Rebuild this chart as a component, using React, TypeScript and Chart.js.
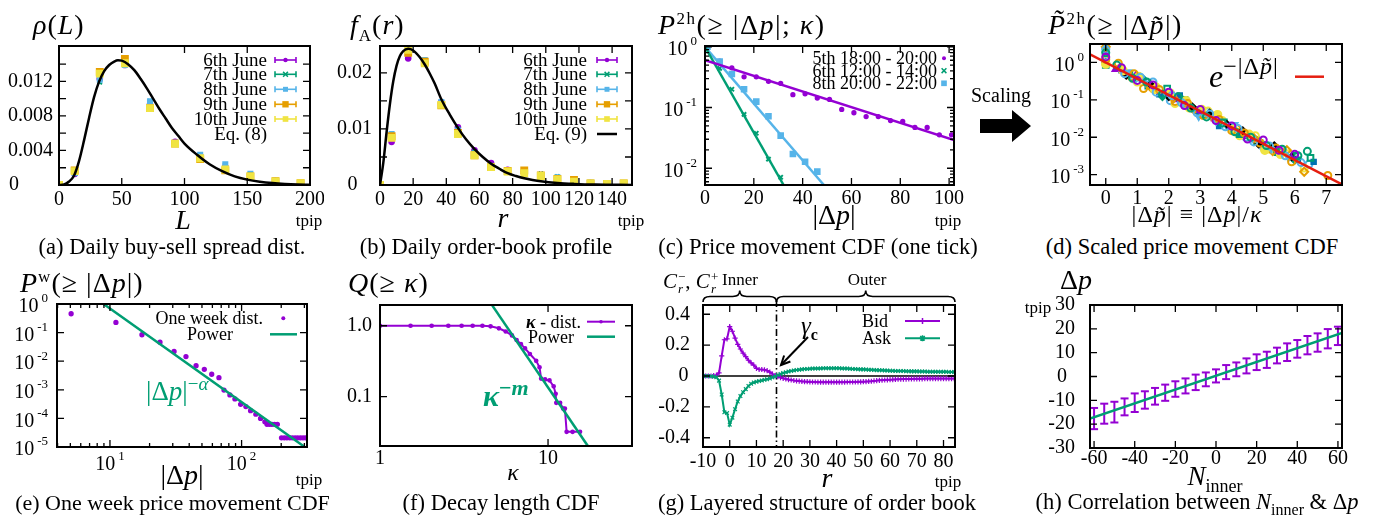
import React, { useEffect, useRef } from 'react';
import { Chart, registerables } from 'chart.js';

Chart.register(...registerables);

const SERIF = "'Liberation Serif', 'Times New Roman', Times, serif";
const PURPLE = '#9400d3';
const GREEN = '#009e73';
const CYAN = '#56b4e9';
const ORANGE = '#e69f00';
const YELLOW = '#f0e442';
const BLUE = '#0072b2';
const RED = '#e51e10';
const BLACK = '#000000';
const NONE = 'rgba(0,0,0,0)';

const ML = 60, MR = 14, MT = 26, MB = 34;
const TICK_FONT = 20, SUP_FONT = 13;

// ---------------- (a) Daily buy-sell spread dist. ----------------
const aL = [0, 12.5, 32.5, 52.5, 72.5, 92.5, 112.5, 132.5, 152.5, 172.5, 192.5];
const aJun6 = [0, 0.0013, 0.0123, 0.0139, 0.0093, 0.005, 0.0034, 0.0021, 0.0011, 0.00045, 0.0002];
const aJun7 = [0, 0.0013, 0.0119, 0.0141, 0.0097, 0.0048, 0.0035, 0.0023, 0.0012, 0.00045, 0.0002];
const aJun8 = [0, 0.0014, 0.0122, 0.0139, 0.0097, 0.0049, 0.0035, 0.0024, 0.0013, 0.0005, 0.0002];
const aJun9 = [0, 0.0017, 0.0131, 0.0146, 0.0089, 0.0048, 0.003, 0.0017, 0.001, 0.00045, 0.0002];
const aJun10 = [0, 0.0016, 0.0129, 0.0141, 0.0089, 0.0048, 0.0031, 0.0018, 0.001, 0.0004, 0.0002];
const aEqL = [0, 4, 8, 12, 16, 20, 24, 28, 32, 36, 40, 44, 47, 50, 55, 60, 65, 70, 75, 80, 85, 90, 95, 100, 110, 120, 130, 140, 150, 160, 170, 180, 190, 200];
const aEqRho = [0, 0.00005, 0.0004, 0.0011, 0.0028, 0.0052, 0.0078, 0.0102, 0.012, 0.0132, 0.0139, 0.0143, 0.01445, 0.0144, 0.014, 0.0133, 0.0123, 0.0112, 0.01, 0.0088, 0.0077, 0.0066, 0.0057, 0.0048, 0.0035, 0.0024, 0.0016, 0.001, 0.00062, 0.00038, 0.00022, 0.00012, 0.00006, 0.00003];
const aXTicks = [0, 50, 100, 150, 200];
const aXLabels = ['0', '50', '100', '150', '200'];
const aYMarks = [0, 0.002, 0.004, 0.006, 0.008, 0.01, 0.012, 0.014];
const aYTicks = [0, 0.004, 0.008, 0.012];
const aYLabels = ['0', '0.004', '0.008', '0.012'];

// ---------------- (b) Daily order-book profile ----------------
const bR = [0, 7, 17, 27, 37, 47, 57, 67, 77, 87, 97, 107, 117, 127, 137, 147];
const bJun6 = [0, 0.0077, 0.0226, 0.022, 0.0148, 0.0103, 0.0062, 0.0039, 0.0027, 0.0021, 0.0015, 0.0011, 0.00066, 0.00036, 0.0002, 0.00012];
const bJun7 = [0, 0.009, 0.0237, 0.0216, 0.0146, 0.01, 0.0059, 0.0035, 0.0026, 0.0023, 0.002, 0.0015, 0.0008, 0.0004, 0.0002, 0.0002];
const bJun8 = [0, 0.0091, 0.0238, 0.0223, 0.0148, 0.0097, 0.0056, 0.0033, 0.0025, 0.0023, 0.0018, 0.0014, 0.0007, 0.0004, 0.0002, 0.0002];
const bJun9 = [0, 0.0087, 0.0236, 0.022, 0.0142, 0.0093, 0.0053, 0.0032, 0.0025, 0.0026, 0.0017, 0.0011, 0.0009, 0.0003, 0.0002, 0.0003];
const bJun10 = [0, 0.0084, 0.0241, 0.0217, 0.0143, 0.0091, 0.0053, 0.0032, 0.0024, 0.0021, 0.0016, 0.001, 0.0006, 0.0003, 0.0002, 0.0003];
const bEqR = [0, 2, 4, 6, 8, 10, 12, 14, 17, 20, 24, 27, 30, 33, 37, 42, 47, 52, 57, 62, 67, 72, 77, 82, 87, 92, 97, 107, 117, 130, 152];
const bEqF = [0, 0.004, 0.0095, 0.0145, 0.0185, 0.0213, 0.023, 0.0239, 0.0243, 0.024, 0.0228, 0.0215, 0.0199, 0.0181, 0.0153, 0.0126, 0.0102, 0.0081, 0.0064, 0.005, 0.0038, 0.0029, 0.0021, 0.0016, 0.0012, 0.0009, 0.00066, 0.00036, 0.0002, 0.00008, 0.00002];
const bXTicks = [0, 20, 40, 60, 80, 100, 120, 140];
const bXLabels = ['0', '20', '40', '60', '80', '100', '120', '140'];
const bYMarks = [0, 0.005, 0.01, 0.015, 0.02];
const bYTicks = [0, 0.01, 0.02];
const bYLabels = ['0', '0.01', '0.02'];

// ---------------- (c) Price movement CDF ----------------
const cPurpleX = [6, 11, 16, 21, 26, 31, 36, 41, 46, 51, 56, 61, 66, 71, 76, 81, 86, 91, 96, 101];
const cPurpleY = [0.58, 0.45, 0.32, 0.32, 0.27, 0.25, 0.163, 0.168, 0.143, 0.136, 0.093, 0.082, 0.071, 0.071, 0.061, 0.059, 0.047, 0.047, 0.0355, 0.0355];
const cPurpleFitX = [0, 102];
const cPurpleFitY = [0.6, 0.029];
const cGreenX = [1, 6, 11, 16, 21, 26, 31];
const cGreenY = [1.0, 0.44, 0.2, 0.077, 0.0377, 0.0141, 0.0071];
const cGreenFitX = [0, 32.2];
const cGreenFitY = [1.0, 0.0053];
const cCyanX = [1, 6, 11, 16, 21, 26, 31, 36, 41, 46];
const cCyanY = [1.0, 0.57, 0.356, 0.2, 0.125, 0.072, 0.0344, 0.0172, 0.0128, 0.0088];
const cCyanFitX = [0, 48.7];
const cCyanFitY = [1.0, 0.0053];
const cXTicks = [0, 20, 40, 60, 80, 100];
const cXLabels = ['0', '20', '40', '60', '80', '100'];
const cYTicks = [1, 0.1, 0.01];
const cYLabels = ['10^0', '10^-1', '10^-2'];
const cYMinor = [0.006, 0.007, 0.008, 0.009, 0.02, 0.03, 0.04, 0.05, 0.06, 0.07, 0.08, 0.09, 0.2, 0.3, 0.4, 0.5, 0.6, 0.7, 0.8, 0.9];

// ---------------- (d) Scaled price movement CDF ----------------
const d1X = [0, 0.5, 1.0, 1.5, 2.0, 2.5, 3.0, 3.5, 4.0, 4.5, 5.0, 5.5, 6.0];
const d1Y = [1.4, 0.72, 0.33, 0.25, 0.16, 0.07, 0.055, 0.028, 0.02, 0.009, 0.0085, 0.0045, 0.0035];
const d2X = [0, 0.35, 0.85, 1.3, 1.8, 2.3, 2.7, 3.2, 3.7, 4.1, 4.6, 5.1, 5.6, 6.1, 6.4];
const d2Y = [1.8, 0.85, 0.38, 0.3, 0.14, 0.12, 0.06, 0.035, 0.024, 0.014, 0.01, 0.006, 0.0048, 0.0032, 0.0042];
const d3X = [0, 0.6, 1.1, 1.6, 2.1, 2.4, 2.9, 3.3, 3.8, 4.2, 4.7, 5.2, 5.7, 6.2];
const d3Y = [2.2, 0.5, 0.4, 0.16, 0.13, 0.085, 0.045, 0.042, 0.019, 0.017, 0.0075, 0.0058, 0.0032, 0.0021];
const d4X = [0, 0.4, 0.9, 1.2, 1.7, 2.2, 2.6, 3.1, 3.6, 4.0, 4.4, 4.9, 5.4, 5.9, 7.05];
const d4Y = [1.2, 0.95, 0.5, 0.2, 0.19, 0.09, 0.08, 0.038, 0.03, 0.015, 0.013, 0.007, 0.0052, 0.0022, 0.00095];
const d5X = [0, 0.55, 1.05, 1.55, 2.05, 2.55, 3.05, 3.55, 4.05, 4.55, 5.05, 5.55];
const d5Y = [0.9, 0.6, 0.42, 0.19, 0.15, 0.095, 0.055, 0.04, 0.016, 0.012, 0.0045, 0.0035];
const d6X = [0, 0.7, 1.25, 1.9, 2.45, 2.95, 3.5, 4.1, 4.65, 5.25, 5.8];
const d6Y = [1.1, 0.55, 0.28, 0.15, 0.075, 0.035, 0.026, 0.022, 0.009, 0.0048, 0.0028];
const d7X = [0, 0.65, 1.4, 2.0, 2.75, 3.3, 3.85, 4.35, 4.85, 5.35, 5.9];
const d7Y = [1.0, 0.45, 0.27, 0.12, 0.065, 0.045, 0.022, 0.015, 0.0065, 0.006, 0.003];
const d8X = [0, 0.8, 1.45, 2.15, 2.8, 3.4, 4.15, 4.7, 5.3, 5.75, 6.3];
const d8Y = [2.6, 0.4, 0.21, 0.11, 0.055, 0.034, 0.018, 0.0095, 0.0043, 0.0045, 0.0012];
const d9X = [0, 0.3, 0.95, 1.65, 2.25, 2.85, 3.45, 4.05, 4.5, 5.05, 5.65];
const d9Y = [1.6, 0.65, 0.45, 0.17, 0.1, 0.052, 0.031, 0.018, 0.0105, 0.006, 0.0036];
const d10X = [0, 0.75, 1.35, 1.95, 2.5, 3.15, 3.75, 4.25, 4.8, 5.45, 6.0, 6.5];
const d10Y = [0.85, 0.5, 0.24, 0.2, 0.1, 0.04, 0.025, 0.012, 0.0075, 0.004, 0.0032, 0.0028];
const d11X = [0, 0.5, 1.15, 1.7, 2.35, 2.9, 3.6, 4.3, 4.9, 5.5, 6.1, 6.6];
const d11Y = [3.0, 0.62, 0.35, 0.14, 0.13, 0.05, 0.02, 0.014, 0.0072, 0.0038, 0.0025, 0.0022];
const d12X = [0, 0.45, 1.0, 1.6, 2.2, 2.65, 3.25, 3.7, 4.25, 4.75, 5.2, 5.8, 6.3];
const d12Y = [1.3, 0.7, 0.3, 0.22, 0.08, 0.06, 0.05, 0.028, 0.011, 0.011, 0.0048, 0.0036, 0.0015];
const d13X = [0, 0.55, 1.2, 1.8, 2.4, 3.0, 3.55, 4.2, 4.85, 5.4, 6.0];
const d13Y = [1.9, 0.58, 0.36, 0.12, 0.11, 0.042, 0.03, 0.012, 0.0085, 0.0042, 0.0024];
const d14X = [0, 0.9, 1.5, 2.05, 2.6, 3.2, 3.9, 4.45, 5.0, 5.6, 6.45];
const d14Y = [2.4, 0.36, 0.3, 0.095, 0.07, 0.048, 0.02, 0.01, 0.0055, 0.0046, 0.0019];
const dFitX = [-0.5, 7.5];
const dFitY = [1.65, 0.00055];
const dXTicks = [0, 1, 2, 3, 4, 5, 6, 7];
const dXLabels = ['0', '1', '2', '3', '4', '5', '6', '7'];
const dYTicks = [1, 0.1, 0.01, 0.001];
const dYLabels = ['10^0', '10^-1', '10^-2', '10^-3'];

// ---------------- (e) One week price movement CDF ----------------
const eX = [5.07, 11.1, 17.5, 24.0, 30.7, 37.8, 45.1, 52.1, 59.3, 67.3, 73.5, 81.5, 89.0, 98.3, 107.8, 117, 128.3, 139.3, 150.3, 156, 163, 170, 178, 187, 201, 211, 221, 232, 243, 255, 267, 280, 293, 306, 318];
const eY = [0.457, 0.226, 0.084, 0.046, 0.0218, 0.0145, 0.007, 0.0052, 0.0035, 0.00266, 0.00098, 0.00066, 0.00048, 0.00031, 0.00026, 0.000186, 0.000141, 0.0001, 0.000076, 0.000062, 0.000062, 0.000062, 0.000062, 0.000062, 0.000021, 0.000021, 0.000021, 0.000021, 0.000021, 0.000021, 0.000021, 0.000021, 0.000021, 0.000021, 0.000021];
const eFitX = [8.95, 302];
const eFitY = [1, 0.00001];
const eXTicks = [10, 100];
const eXLabels = ['10^1', '10^2'];
const eXMinor = [4, 5, 6, 7, 8, 9, 20, 30, 40, 50, 60, 70, 80, 90, 200, 300];
const eYTicks = [1, 0.1, 0.01, 0.001, 0.0001, 0.00001];
const eYLabels = ['10^0', '10^-1', '10^-2', '10^-3', '10^-4', '10^-5'];

// ---------------- (f) Decay length CDF ----------------
const fK = [1.0, 1.52, 2.03, 2.55, 3.06, 3.56, 4.07, 4.55, 5.1, 5.6, 6.1, 6.5, 6.9, 7.3, 7.8, 8.5, 8.9, 9.1, 9.6, 10.2, 10.8, 11.1, 11.2, 11.8, 12.3, 12.6, 12.9, 14.0, 15.5];
const fQ = [1.0, 1.0, 1.0, 1.0, 1.0, 1.0, 1.0, 0.98, 0.92, 0.83, 0.73, 0.63, 0.55, 0.48, 0.4, 0.32, 0.26, 0.18, 0.175, 0.17, 0.14, 0.11, 0.082, 0.082, 0.068, 0.068, 0.032, 0.032, 0.032];
const fFitK = [4.61, 17.3];
const fFitQ = [2.0, 0.02];
const fXTicks = [1, 10];
const fXLabels = ['1', '10'];
const fYTicks = [1, 0.1];
const fYLabels = ['1.0', '0.1'];

// ---------------- (g) Layered structure of order book ----------------
const gR = [-10, -9, -8, -7, -6, -5, -4, -3, -2, -1, 0, 1, 2, 3, 4, 5, 6, 7, 8, 9, 10, 11, 12, 13, 14, 15, 16, 17, 18, 19, 20, 21, 22, 23, 24, 25, 26, 27, 28, 29, 30, 31, 32, 33, 34, 35, 36, 37, 38, 39, 40, 41, 42, 43, 44, 45, 46, 47, 48, 49, 50, 51, 52, 53, 54, 55, 56, 57, 58, 59, 60, 61, 62, 63, 64, 65, 66, 67, 68, 69, 70, 71, 72, 73, 74, 75, 76, 77, 78, 79, 80, 81, 82, 83, 84];
const gBid = [0, 0, 0, 0, 0.002, 0.005, 0.02, 0.13, 0.235, 0.24, 0.32, 0.29, 0.245, 0.205, 0.175, 0.148, 0.125, 0.102, 0.085, 0.07, 0.05, 0.042, 0.042, 0.04, 0.035, 0.025, 0.013, 0.003,
  -0.004, -0.01, -0.015, -0.019, -0.023, -0.026, -0.029, -0.031, -0.033, -0.035, -0.036, -0.037, -0.038,
  -0.039, -0.039, -0.04, -0.04, -0.04, -0.04, -0.04, -0.04, -0.04, -0.04,
  -0.04, -0.04, -0.04, -0.039, -0.039, -0.039, -0.039, -0.038, -0.038, -0.037,
  -0.036, -0.035, -0.034, -0.032, -0.03, -0.028, -0.027, -0.026, -0.025, -0.024,
  -0.023, -0.022, -0.021, -0.021, -0.02, -0.02, -0.019, -0.019, -0.018, -0.018,
  -0.018, -0.018, -0.017, -0.017, -0.017, -0.017, -0.017, -0.017, -0.017, -0.017, -0.017, -0.017, -0.017, -0.017];
const gAsk = [0, 0, 0, -0.002, -0.004, -0.008, -0.03, -0.12, -0.235, -0.24, -0.315, -0.27, -0.215, -0.165, -0.13, -0.105, -0.085, -0.065, -0.05, -0.042, -0.037, -0.033, -0.029, -0.025, -0.021, -0.016, -0.009, -0.002,
  0.006, 0.013, 0.019, 0.024, 0.029, 0.033, 0.036, 0.039, 0.041, 0.043, 0.045, 0.046, 0.047,
  0.048, 0.048, 0.049, 0.049, 0.05, 0.05, 0.05, 0.05, 0.05, 0.05,
  0.05, 0.049, 0.049, 0.048, 0.047, 0.046, 0.045, 0.044, 0.043, 0.043,
  0.042, 0.041, 0.04, 0.039, 0.038, 0.037, 0.037, 0.036, 0.035, 0.034,
  0.034, 0.033, 0.033, 0.032, 0.032, 0.031, 0.031, 0.03, 0.03, 0.03,
  0.029, 0.029, 0.029, 0.028, 0.028, 0.028, 0.028, 0.027, 0.027, 0.027, 0.027, 0.026, 0.026, 0.026];
const gGammaC = 17.5;
const gXTicks = [-10, 0, 10, 20, 30, 40, 50, 60, 70, 80];
const gXLabels = ['-10', '0', '10', '20', '30', '40', '50', '60', '70', '80'];
const gYTicks = [0.4, 0.2, 0, -0.2, -0.4];
const gYLabels = ['0.4', '0.2', '0', '-0.2', '-0.4'];

// ---------------- (h) Correlation between N_inner & Δp ----------------
const hN = [-60, -55, -50, -45, -40, -35, -30, -25, -20, -15, -10, -5, 0, 5, 10, 15, 20, 25, 30, 35, 40, 45, 50, 55, 60];
const hHigh = [-13.2, -11.4, -10.6, -9.2, -7.1, -6.2, -4.8, -3.4, -2.0, -0.8, 0.8, 1.7, 3.0, 4.8, 5.9, 7.6, 9.3, 10.4, 12.1, 13.9, 15.3, 17.0, 18.1, 19.9, 20.9];
const hLow = [-22.1, -19.8, -19.3, -16.3, -14.9, -13.5, -11.8, -10.2, -8.5, -7.1, -5.7, -4.1, -2.5, -1.1, 0.1, 1.3, 2.7, 3.6, 5.5, 6.5, 7.9, 9.3, 10.4, 11.8, 13.2];
const hFitN = [-62, 62];
const hFitP = [-17.6, 18.3];
const hXTicks = [-60, -40, -20, 0, 20, 40, 60];
const hXLabels = ['-60', '-40', '-20', '0', '20', '40', '60'];
const hYTicks = [30, 20, 10, 0, -10, -20, -30];
const hYLabels = ['30', '20', '10', '0', '-10', '-20', '-30'];

// ---------------- helpers ----------------
const P = (xs: number[], ys: number[]) => xs.map((x, i) => ({ x, y: ys[i] }));

function dots(xs: number[], ys: number[], color: string, style: string, r: number, open = false, bw = 1.5, rot = 0) {
  return {
    data: P(xs, ys), showLine: false, pointStyle: style, pointRadius: r, pointBorderWidth: bw,
    borderColor: color, backgroundColor: open ? NONE : color,
    pointBorderColor: color, pointBackgroundColor: open ? NONE : color, pointRotation: rot,
  };
}
function curve(xs: number[], ys: number[], color: string, w: number, smooth = false) {
  return {
    data: P(xs, ys), showLine: true, pointRadius: 0, borderColor: color, borderWidth: w, clip: 0,
    cubicInterpolationMode: smooth ? 'monotone' : 'default', tension: 0,
  };
}
function linePts(xs: number[], ys: number[], color: string, w: number, style: string, r: number, pbw = 1.5) {
  return {
    data: P(xs, ys), showLine: true, borderColor: color, borderWidth: w, pointStyle: style, pointRadius: r,
    pointBorderColor: color, pointBackgroundColor: color, pointBorderWidth: pbw, backgroundColor: color,
  };
}

function mark(ctx: any, style: string, x: number, y: number, r: number, color: string, fill = true) {
  ctx.save();
  ctx.strokeStyle = color; ctx.fillStyle = color; ctx.lineWidth = 1.5;
  ctx.beginPath();
  if (style === 'circle') { ctx.arc(x, y, r, 0, Math.PI * 2); if (fill) ctx.fill(); else ctx.stroke(); }
  else if (style === 'rect') { const s = r * Math.SQRT1_2; ctx.rect(x - s, y - s, 2 * s, 2 * s); if (fill) ctx.fill(); else ctx.stroke(); }
  else if (style === 'cross') { ctx.moveTo(x - r, y); ctx.lineTo(x + r, y); ctx.moveTo(x, y - r); ctx.lineTo(x, y + r); ctx.stroke(); }
  else if (style === 'crossRot') { const d = r * 0.8; ctx.moveTo(x - d, y - d); ctx.lineTo(x + d, y + d); ctx.moveTo(x - d, y + d); ctx.lineTo(x + d, y - d); ctx.stroke(); }
  else if (style === 'star') { const d = r * 0.75; ctx.moveTo(x - r, y); ctx.lineTo(x + r, y); ctx.moveTo(x, y - r); ctx.lineTo(x, y + r); ctx.moveTo(x - d, y - d); ctx.lineTo(x + d, y + d); ctx.moveTo(x - d, y + d); ctx.lineTo(x + d, y - d); ctx.stroke(); }
  ctx.restore();
}
function seg(ctx: any, x1: number, y1: number, x2: number, y2: number, color: string, w: number) {
  ctx.save(); ctx.strokeStyle = color; ctx.lineWidth = w; ctx.beginPath(); ctx.moveTo(x1, y1); ctx.lineTo(x2, y2); ctx.stroke(); ctx.restore();
}
function errSample(ctx: any, x1: number, x2: number, y: number, color: string, style: string, r: number) {
  seg(ctx, x1, y, x2, y, color, 1.6);
  seg(ctx, x1, y - 3, x1, y + 3, color, 1.6);
  seg(ctx, x2, y - 3, x2, y + 3, color, 1.6);
  mark(ctx, style, (x1 + x2) / 2, y, r, color);
}
function drawLabel(ctx: any, text: string, x: number, y: number, align: string) {
  const parts = text.split('^');
  const base = parts[0];
  const exp = parts[1];
  ctx.font = `${TICK_FONT}px ${SERIF}`;
  const wb = ctx.measureText(base).width;
  let we = 0;
  if (exp !== undefined) { ctx.font = `${SUP_FONT}px ${SERIF}`; we = ctx.measureText(exp).width + 3; }
  const total = wb + we;
  const x0 = align === 'right' ? x - total : align === 'center' ? x - total / 2 : x;
  ctx.fillStyle = BLACK; ctx.textAlign = 'left'; ctx.textBaseline = 'middle';
  ctx.font = `${TICK_FONT}px ${SERIF}`;
  ctx.fillText(base, x0, exp !== undefined ? y + 3 : y);
  if (exp !== undefined) { ctx.font = `${SUP_FONT}px ${SERIF}`; ctx.fillText(exp, x0 + wb + 3, y - 5); }
}
function brace(ctx: any, x1: number, x2: number, y0: number, y1: number, y2: number) {
  const xm = (x1 + x2) / 2, r = 7;
  ctx.beginPath();
  ctx.moveTo(x1, y0);
  ctx.quadraticCurveTo(x1, y1, x1 + r, y1);
  ctx.lineTo(xm - r, y1);
  ctx.quadraticCurveTo(xm, y1, xm, y2);
  ctx.quadraticCurveTo(xm, y1, xm + r, y1);
  ctx.lineTo(x2 - r, y1);
  ctx.quadraticCurveTo(x2, y1, x2, y0);
  ctx.stroke();
}

type Axis = { type: string; min: number; max: number; marks: number[]; minor?: number[]; labelAt: number[]; labels: string[] };
type Spec = {
  left: number; top: number; width: number; height: number;
  x: Axis; y: Axis; yGap: number; xOff: number; zeroX?: number;
  datasets: () => any[];
  before?: (c: any) => void;
  after?: (c: any) => void;
};

function mk(chart: any, s: Spec) {
  const ox = s.left - ML, oy = s.top - MT;
  return {
    ctx: chart.ctx, xs: chart.scales.x, ys: chart.scales.y, area: chart.chartArea,
    px: (x: number) => x - ox, py: (y: number) => y - oy, ox, oy,
  };
}

function framePlugin(s: Spec) {
  return {
    id: 'frame',
    beforeDatasetsDraw(chart: any) {
      if (s.before) { const c = mk(chart, s); c.ctx.save(); s.before(c); c.ctx.restore(); }
    },
    afterDatasetsDraw(chart: any) {
      const c = mk(chart, s);
      const { ctx, xs, ys, area } = c;
      ctx.save();
      ctx.strokeStyle = BLACK;
      ctx.lineWidth = 1.3;
      const tick = (v: number, isX: boolean, len: number) => {
        ctx.beginPath();
        if (isX) {
          const p = xs.getPixelForValue(v);
          if (p < area.left - 0.5 || p > area.right + 0.5) return;
          ctx.moveTo(p, area.bottom); ctx.lineTo(p, area.bottom - len);
          ctx.moveTo(p, area.top); ctx.lineTo(p, area.top + len);
        } else {
          const p = ys.getPixelForValue(v);
          if (p < area.top - 0.5 || p > area.bottom + 0.5) return;
          ctx.moveTo(area.left, p); ctx.lineTo(area.left + len, p);
          ctx.moveTo(area.right, p); ctx.lineTo(area.right - len, p);
        }
        ctx.stroke();
      };
      s.x.marks.forEach((v) => tick(v, true, 7));
      (s.x.minor || []).forEach((v) => tick(v, true, 4));
      s.y.marks.forEach((v) => tick(v, false, 7));
      (s.y.minor || []).forEach((v) => tick(v, false, 4));
      ctx.lineWidth = 2;
      ctx.strokeRect(area.left, area.top, area.right - area.left, area.bottom - area.top);
      s.x.labelAt.forEach((v, i) => drawLabel(ctx, s.x.labels[i], xs.getPixelForValue(v), area.bottom + s.xOff, 'center'));
      s.y.labelAt.forEach((v, i) => {
        const t = s.y.labels[i];
        const p = ys.getPixelForValue(v);
        if (t === '0' && s.zeroX !== undefined) drawLabel(ctx, t, c.px(s.zeroX), p, 'center');
        else drawLabel(ctx, t, area.left - s.yGap, p, 'right');
      });
      if (s.after) s.after(c);
      ctx.restore();
    },
  };
}

const rows6 = [60, 74.3, 89.3, 104.3, 119, 134];

const specs: Spec[] = [
  {
    left: 59, top: 46, width: 251, height: 139,
    x: { type: 'linear', min: 0, max: 200, marks: aXTicks, labelAt: aXTicks, labels: aXLabels },
    y: { type: 'linear', min: 0, max: 0.0161, marks: aYMarks, labelAt: aYTicks, labels: aYLabels },
    yGap: 6, xOff: 15, zeroX: 14,
    datasets: () => [
      curve(aEqL, aEqRho, BLACK, 2.5, true),
      dots(aL, aJun10, YELLOW, 'rect', 4.5),
      dots(aL, aJun9, ORANGE, 'rect', 4.5),
      dots(aL, aJun8, CYAN, 'rect', 3.2),
      dots(aL, aJun7, GREEN, 'crossRot', 3, false, 2),
      dots(aL, aJun6, PURPLE, 'circle', 2.6),
    ],
    after: ({ ctx, px, py }: any) => {
      errSample(ctx, px(275), px(296), py(rows6[0]), PURPLE, 'circle', 2.2);
      errSample(ctx, px(275), px(296), py(rows6[1]), GREEN, 'crossRot', 3);
      errSample(ctx, px(275), px(296), py(rows6[2]), CYAN, 'rect', 3.5);
      errSample(ctx, px(275), px(296), py(rows6[3]), ORANGE, 'rect', 4.5);
      errSample(ctx, px(275), px(296), py(rows6[4]), YELLOW, 'rect', 4);
    },
  },
  {
    left: 380, top: 46, width: 252, height: 139,
    x: { type: 'linear', min: 0, max: 152, marks: bXTicks, labelAt: bXTicks, labels: bXLabels },
    y: { type: 'linear', min: 0, max: 0.0248, marks: bYMarks, labelAt: bYTicks, labels: bYLabels },
    yGap: 8, xOff: 15, zeroX: 352.5,
    datasets: () => [
      curve(bEqR, bEqF, BLACK, 2.5, true),
      dots(bR, bJun10, YELLOW, 'rect', 4.5),
      dots(bR, bJun9, ORANGE, 'rect', 4.5),
      dots(bR, bJun8, CYAN, 'rect', 3.2),
      dots(bR, bJun7, GREEN, 'crossRot', 3, false, 2),
      dots(bR, bJun6, PURPLE, 'circle', 2.6),
    ],
    after: ({ ctx, px, py }: any) => {
      errSample(ctx, px(597), px(617), py(rows6[0]), PURPLE, 'circle', 2.2);
      errSample(ctx, px(597), px(617), py(rows6[1]), GREEN, 'crossRot', 3);
      errSample(ctx, px(597), px(617), py(rows6[2]), CYAN, 'rect', 3.5);
      errSample(ctx, px(597), px(617), py(rows6[3]), ORANGE, 'rect', 4.5);
      errSample(ctx, px(597), px(617), py(rows6[4]), YELLOW, 'rect', 4);
      seg(ctx, px(597), py(rows6[5]), px(617), py(rows6[5]), BLACK, 2.5);
    },
  },
  {
    left: 705, top: 46, width: 249, height: 139,
    x: { type: 'linear', min: 0, max: 102, marks: cXTicks, labelAt: cXTicks, labels: cXLabels },
    y: { type: 'logarithmic', min: 0.0053, max: 1.03, marks: cYTicks, minor: cYMinor, labelAt: cYTicks, labels: cYLabels },
    yGap: 8, xOff: 14,
    datasets: () => [
      curve(cPurpleFitX, cPurpleFitY, PURPLE, 2.5),
      curve(cGreenFitX, cGreenFitY, GREEN, 2.5),
      curve(cCyanFitX, cCyanFitY, CYAN, 2.5),
      dots(cCyanX, cCyanY, CYAN, 'rect', 3.6),
      dots(cGreenX, cGreenY, GREEN, 'crossRot', 3, false, 2),
      dots(cPurpleX, cPurpleY, PURPLE, 'circle', 1.9),
    ],
    after: ({ ctx, px, py }: any) => {
      mark(ctx, 'circle', px(944), py(58.3), 2, PURPLE);
      mark(ctx, 'crossRot', px(944), py(70.7), 3, GREEN);
      mark(ctx, 'rect', px(944), py(83.3), 4, CYAN);
    },
  },
  {
    left: 1090, top: 44, width: 252, height: 141,
    x: { type: 'linear', min: -0.5, max: 7.5, marks: dXTicks, labelAt: dXTicks, labels: dXLabels },
    y: { type: 'logarithmic', min: 0.00053, max: 3.1, marks: dYTicks, labelAt: dYTicks, labels: dYLabels },
    yGap: 6, xOff: 14,
    datasets: () => [
      curve(dFitX, dFitY, RED, 2.5),
      dots(d1X, d1Y, PURPLE, 'circle', 3.5, true, 2),
      dots(d2X, d2Y, GREEN, 'circle', 3.5, true, 2),
      dots(d3X, d3Y, CYAN, 'circle', 3.5, true, 2),
      dots(d4X, d4Y, ORANGE, 'circle', 3.5, true, 2),
      dots(d5X, d5Y, YELLOW, 'circle', 4),
      dots(d6X, d6Y, CYAN, 'triangle', 3.5, false, 1.5, 180),
      dots(d7X, d7Y, BLACK, 'rectRot', 3.5),
      dots(d8X, d8Y, ORANGE, 'rectRot', 4, true, 2),
      dots(d9X, d9Y, PURPLE, 'triangle', 3.5),
      dots(d10X, d10Y, GREEN, 'rect', 4, true, 2),
      dots(d11X, d11Y, BLUE, 'rect', 3.5),
      dots(d12X, d12Y, YELLOW, 'circle', 3.5, true, 2),
      dots(d13X, d13Y, GREEN, 'rectRot', 3.5),
      dots(d14X, d14Y, CYAN, 'circle', 3.5, true, 2),
    ],
    after: ({ ctx, px, py }: any) => {
      seg(ctx, px(1295), py(76.7), px(1324), py(76.7), RED, 2.5);
    },
  },
  {
    left: 57, top: 304, width: 250, height: 143,
    x: { type: 'logarithmic', min: 3.96, max: 314, marks: eXTicks, minor: eXMinor, labelAt: eXTicks, labels: eXLabels },
    y: { type: 'logarithmic', min: 0.00001, max: 1, marks: eYTicks, labelAt: eYTicks, labels: eYLabels },
    yGap: 9, xOff: 15,
    datasets: () => [
      curve(eFitX, eFitY, GREEN, 2.5),
      dots(eX, eY, PURPLE, 'circle', 1.9),
    ],
    after: ({ ctx, px, py }: any) => {
      mark(ctx, 'circle', px(283.3), py(318.3), 2, PURPLE);
      seg(ctx, px(270), py(334.3), px(297), py(334.3), GREEN, 2.5);
    },
  },
  {
    left: 380, top: 305, width: 252, height: 141,
    x: { type: 'logarithmic', min: 1, max: 31.6, marks: fXTicks, labelAt: fXTicks, labels: fXLabels },
    y: { type: 'logarithmic', min: 0.0202, max: 1.96, marks: fYTicks, labelAt: fYTicks, labels: fYLabels },
    yGap: 8, xOff: 12.5,
    datasets: () => [
      curve(fFitK, fFitQ, GREEN, 2.5),
      linePts(fK, fQ, PURPLE, 2, 'circle', 1.6),
    ],
    after: ({ ctx, px, py }: any) => {
      seg(ctx, px(587), py(321.7), px(615), py(321.7), PURPLE, 2);
      mark(ctx, 'circle', px(601), py(321.7), 1.8, PURPLE);
      seg(ctx, px(587), py(336.7), px(615), py(336.7), GREEN, 2.5);
    },
  },
  {
    left: 703, top: 305, width: 252, height: 142,
    x: { type: 'linear', min: -10, max: 84.3, marks: gXTicks, labelAt: gXTicks, labels: gXLabels },
    y: { type: 'linear', min: -0.46, max: 0.46, marks: gYTicks, labelAt: gYTicks, labels: gYLabels },
    yGap: 13, xOff: 15, zeroX: 683.5,
    datasets: () => [
      linePts(gR, gAsk, GREEN, 2, 'crossRot', 2.6, 1.2),
      linePts(gR, gBid, PURPLE, 2, 'cross', 2.6, 1.2),
    ],
    before: ({ ctx, xs, ys, area, py }: any) => {
      const y0 = ys.getPixelForValue(0);
      seg(ctx, area.left, y0, area.right, y0, BLACK, 1.6);
      const xg = xs.getPixelForValue(gGammaC);
      ctx.setLineDash([7, 3, 1.5, 3]);
      seg(ctx, xg, py(300), xg, area.bottom, BLACK, 1.6);
      ctx.setLineDash([]);
    },
    after: ({ ctx, xs, area, px, py }: any) => {
      const xg = xs.getPixelForValue(gGammaC);
      ctx.strokeStyle = BLACK; ctx.lineWidth = 1.6;
      brace(ctx, area.left, xg, py(302), py(296.5), py(290.5));
      brace(ctx, xg, area.right, py(302), py(296.5), py(290.5));
      const x1 = px(808), y1 = py(337), x2 = px(781), y2 = py(365);
      seg(ctx, x1, y1, x2, y2, BLACK, 2);
      const ang = Math.atan2(y2 - y1, x2 - x1);
      ctx.beginPath();
      ctx.moveTo(x2 - 10 * Math.cos(ang - 0.45), y2 - 10 * Math.sin(ang - 0.45));
      ctx.lineTo(x2, y2);
      ctx.lineTo(x2 - 10 * Math.cos(ang + 0.45), y2 - 10 * Math.sin(ang + 0.45));
      ctx.lineWidth = 2; ctx.stroke();
      seg(ctx, px(905), py(321), px(940), py(321), PURPLE, 2);
      mark(ctx, 'cross', px(922.5), py(321), 3, PURPLE);
      seg(ctx, px(905), py(338.3), px(940), py(338.3), GREEN, 2);
      mark(ctx, 'star', px(922.5), py(338.3), 3, GREEN);
    },
  },
  {
    left: 1090, top: 305, width: 252, height: 143,
    x: { type: 'linear', min: -62, max: 62, marks: hXTicks, labelAt: hXTicks, labels: hXLabels },
    y: { type: 'linear', min: -30, max: 30, marks: hYTicks, labelAt: hYTicks, labels: hYLabels },
    yGap: 15, xOff: 10.6, zeroX: 1062,
    datasets: () => [curve(hFitN, hFitP, GREEN, 2.5)],
    before: ({ ctx, xs, ys }: any) => {
      hN.forEach((n, i) => {
        const x = xs.getPixelForValue(n);
        const yl = ys.getPixelForValue(hLow[i]);
        const yh = ys.getPixelForValue(hHigh[i]);
        seg(ctx, x, yl, x, yh, PURPLE, 2);
        seg(ctx, x - 4, yl, x + 4, yl, PURPLE, 2);
        seg(ctx, x - 4, yh, x + 4, yh, PURPLE, 2);
      });
    },
  },
];

function Panel({ s }: { s: Spec }) {
  const ref = useRef<HTMLCanvasElement>(null);
  const W = s.width + ML + MR, H = s.height + MT + MB;
  useEffect(() => {
    const chart = new Chart(ref.current as HTMLCanvasElement, {
      type: 'scatter',
      data: { datasets: s.datasets() },
      options: {
        animation: false,
        responsive: false,
        maintainAspectRatio: false,
        devicePixelRatio: 1,
        events: [],
        layout: { padding: { left: ML, right: MR, top: MT, bottom: MB } },
        plugins: { legend: { display: false }, tooltip: { enabled: false }, title: { display: false } },
        scales: {
          x: { type: s.x.type, min: s.x.min, max: s.x.max, display: false },
          y: { type: s.y.type, min: s.y.min, max: s.y.max, display: false },
        },
      } as any,
      plugins: [framePlugin(s)],
    } as any);
    return () => chart.destroy();
  }, []);
  return <canvas ref={ref} width={W} height={H} style={{ position: 'absolute', left: s.left - ML, top: s.top - MT, width: W, height: H }} />;
}

function T({ x, y, a = 'l', s = 19, c, w, i, ls, children }: any) {
  const tx = a === 'c' ? '-50%' : a === 'r' ? '-100%' : '0';
  return (
    <div style={{
      position: 'absolute', left: x, top: y, transform: `translate(${tx},-50%)`, fontFamily: SERIF,
      fontSize: s, lineHeight: 1.15, whiteSpace: 'nowrap', color: c || BLACK, fontWeight: w || 'normal',
      fontStyle: i ? 'italic' : 'normal', letterSpacing: ls || 0,
    }}>{children}</div>
  );
}
const sup = (size: number) => ({ fontSize: size, verticalAlign: 'super', lineHeight: 0 });
const sub = (size: number) => ({ fontSize: size, verticalAlign: 'sub', lineHeight: 0 });
function SS({ top, bot }: any) {
  return (
    <span style={{ display: 'inline-flex', flexDirection: 'column', verticalAlign: 'middle', fontSize: 13, lineHeight: 0.95, marginLeft: 1 }}>
      <span>{top}</span><span style={{ fontStyle: 'italic' }}>{bot}</span>
    </span>
  );
}

export default function App() {
  return (
    <div style={{ position: 'absolute', left: 0, top: 0, width: 1396, height: 519, background: '#fff', overflow: 'hidden' }}>
      {specs.map((s, i) => <Panel key={i} s={s} />)}

      {/* row 1 titles */}
      <T x={33} y={25} s={28} ls={1}><i>ρ</i>(<i>L</i>)</T>
      <T x={350} y={25} s={28} ls={1}><i>f</i><span style={sub(17)}>A</span>(<i>r</i>)</T>
      <T x={658} y={25} s={28} ls={1.5}><i>P</i><span style={sup(17)}>2h</span>(≥ |Δ<i>p</i>|; <i>κ</i>)</T>
      <T x={1048} y={25} s={28} ls={1.5}><i>P̃</i><span style={sup(17)}>2h</span>(≥ |Δ<i>p̃</i>|)</T>

      {/* row 1 x titles */}
      <T x={183} y={220} a="c" s={28} i>L</T>
      <T x={503} y={218} a="c" s={28} i>r</T>
      <T x={834} y={215} a="c" s={28}>|Δ<i>p</i>|</T>
      <T x={1197} y={215} a="c" s={24} ls={1}>|Δ<i>p̃</i>| ≡ |Δ<i>p</i>|/<i>κ</i></T>
      <T x={309} y={221} a="c" s={17}>tpip</T>
      <T x={631} y={221} a="c" s={17}>tpip</T>
      <T x={948} y={221} a="c" s={17}>tpip</T>

      {/* row 1 captions */}
      <T x={172} y={247} a="c" s={22.5}>(a) Daily buy-sell spread dist.</T>
      <T x={486} y={247} a="c" s={22.5}>(b) Daily order-book profile</T>
      <T x={818} y={247} a="c" s={22.5}>(c) Price movement CDF (one tick)</T>
      <T x={1192} y={247} a="c" s={22.5}>(d) Scaled price movement CDF</T>

      {/* legends row 1 */}
      <T x={267} y={rows6[0]} a="r" s={19}>6th June</T>
      <T x={267} y={rows6[1]} a="r" s={19}>7th June</T>
      <T x={267} y={rows6[2]} a="r" s={19}>8th June</T>
      <T x={267} y={rows6[3]} a="r" s={19}>9th June</T>
      <T x={267} y={rows6[4]} a="r" s={19}>10th June</T>
      <T x={267} y={rows6[5]} a="r" s={19}>Eq. (8)</T>
      <T x={587} y={rows6[0]} a="r" s={19}>6th June</T>
      <T x={587} y={rows6[1]} a="r" s={19}>7th June</T>
      <T x={587} y={rows6[2]} a="r" s={19}>8th June</T>
      <T x={587} y={rows6[3]} a="r" s={19}>9th June</T>
      <T x={587} y={rows6[4]} a="r" s={19}>10th June</T>
      <T x={587} y={rows6[5]} a="r" s={19}>Eq. (9)</T>
      <T x={937} y={58.3} a="r" s={18}>5th 18:00 - 20:00</T>
      <T x={937} y={70.7} a="r" s={18}>6th 12:00 - 14:00</T>
      <T x={937} y={83.3} a="r" s={18}>8th 20:00 - 22:00</T>
      <T x={1209} y={76} s={32}><i>e</i><span style={{ fontSize: 24, position: 'relative', top: -13, letterSpacing: 1 }}>−|Δ<i>p̃</i>|</span></T>

      {/* Scaling arrow */}
      <T x={971} y={95} s={20}>Scaling</T>
      <svg style={{ position: 'absolute', left: 0, top: 0 }} width={1396} height={519}>
        <polygon points="980,119 1012,119 1012,110 1031,126 1012,142 1012,133 980,133" fill={BLACK} />
      </svg>

      {/* row 2 titles */}
      <T x={20} y={283} s={28} ls={1}><i>P</i><span style={sup(17)}>w</span>(≥ |Δ<i>p</i>|)</T>
      <T x={348} y={283} s={28} ls={1}><i>Q</i>(≥ <i>κ</i>)</T>
      <T x={663} y={282} s={21}><i>C</i><SS top="−" bot="r" />, <i>C</i><SS top="+" bot="r" /></T>
      <T x={1060} y={280} s={28}>Δ<i>p</i></T>
      <T x={1038} y={308} a="c" s={17}>tpip</T>

      {/* row 2 x titles */}
      <T x={182} y={475} a="c" s={28}>|Δ<i>p</i>|</T>
      <T x={513} y={473} a="c" s={24} i>κ</T>
      <T x={827} y={478} a="c" s={28} i>r</T>
      <T x={1215} y={477} a="c" s={27}><i>N</i><span style={sub(18)}>inner</span></T>
      <T x={309} y={480} a="c" s={17}>tpip</T>
      <T x={948} y={482} a="c" s={17}>tpip</T>

      {/* row 2 captions */}
      <T x={172.5} y={503} a="c" s={22}>(e) One week price movement CDF</T>
      <T x={501} y={503} a="c" s={22.5}>(f) Decay length CDF</T>
      <T x={817} y={503} a="c" s={22.5}>(g) Layered structure of order book</T>
      <T x={1197} y={502} a="c" s={22.5}>(h) Correlation between <i>N</i><span style={sub(16)}>inner</span> {'&'} Δ<i>p</i></T>

      {/* legends row 2 */}
      <T x={263} y={318.3} a="r" s={18}>One week dist.</T>
      <T x={233} y={334.3} a="r" s={18}>Power</T>
      <T x={581} y={321.7} a="r" s={18}><b><i>κ</i></b> - dist.</T>
      <T x={574} y={336.7} a="r" s={18}>Power</T>
      <T x={862} y={321} s={18}>Bid</T>
      <T x={862} y={338.3} s={18}>Ask</T>

      {/* annotations row 2 */}
      <T x={146} y={392} s={27} c={GREEN}>|Δ<i>p</i>|<span style={sup(19)}>−<i>α</i></span></T>
      <T x={483} y={396} s={30} c={GREEN} w="bold"><i>κ</i><span style={sup(22)}>−<i>m</i></span></T>
      <T x={740} y={280} a="c" s={17}>Inner</T>
      <T x={867} y={280} a="c" s={17}>Outer</T>
      <T x={801} y={326} s={25}><i>γ</i><span style={{ ...sub(16), fontWeight: 'bold' }}>c</span></T>
    </div>
  );
}
